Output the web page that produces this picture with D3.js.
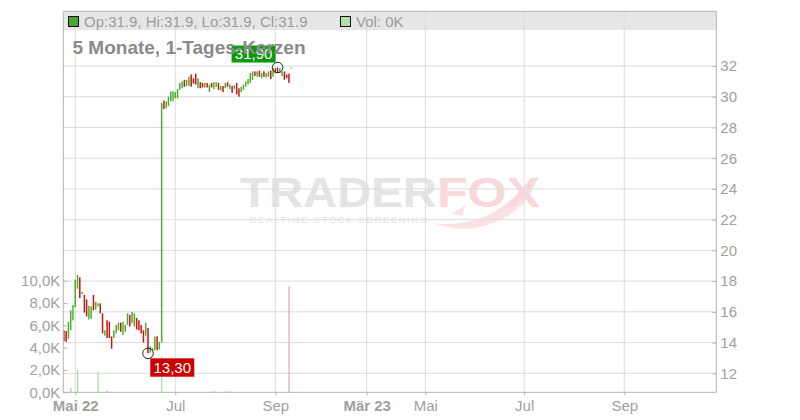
<!DOCTYPE html>
<html><head><meta charset="utf-8">
<script src="https://cdn.jsdelivr.net/npm/d3@7"></script>
<style>
body{margin:0;background:#fff}
svg{display:block}
text{font-family:"Liberation Sans",Arial,Helvetica,sans-serif}
</style>
</head><body>
<svg id="chart" width="800" height="420"></svg>
<script>
// ---------- DATA ----------
const dates = [
"2022-04-25","2022-04-26","2022-04-27","2022-04-28","2022-04-29",
"2022-05-02","2022-05-03","2022-05-04","2022-05-05","2022-05-06",
"2022-05-09","2022-05-10","2022-05-11","2022-05-12","2022-05-13",
"2022-05-16","2022-05-17","2022-05-18","2022-05-19","2022-05-20",
"2022-05-23","2022-05-24","2022-05-25","2022-05-26","2022-05-27",
"2022-05-30","2022-05-31","2022-06-01","2022-06-02","2022-06-03",
"2022-06-06","2022-06-07","2022-06-08","2022-06-09","2022-06-10",
"2022-06-13","2022-06-14","2022-06-15","2022-06-16","2022-06-17",
"2022-06-20","2022-06-21","2022-06-22","2022-06-23","2022-06-24",
"2022-06-27","2022-06-28","2022-06-29","2022-06-30","2022-07-01",
"2022-07-04","2022-07-05","2022-07-06","2022-07-07","2022-07-08",
"2022-07-11","2022-07-12","2022-07-13","2022-07-14","2022-07-15",
"2022-07-18","2022-07-19","2022-07-20","2022-07-21","2022-07-22",
"2022-07-25","2022-07-26","2022-07-27","2022-07-28","2022-07-29",
"2022-08-01","2022-08-02","2022-08-03","2022-08-04","2022-08-05",
"2022-08-08","2022-08-09","2022-08-10","2022-08-11","2022-08-12",
"2022-08-15","2022-08-16","2022-08-17","2022-08-18","2022-08-19",
"2022-08-22","2022-08-23","2022-08-24","2022-08-25","2022-08-26",
"2022-08-29","2022-08-30","2022-08-31","2022-09-01","2022-09-02",
"2022-09-05","2022-09-06","2022-09-07","2022-09-08","2022-09-09",
"2022-09-12"];

const opens = [
14.80,14.75,14.25,14.80,15.45, 16.30,17.50,18.25,17.15,17.10,
16.80,15.50,15.55,17.10,16.15, 16.35,16.55,15.90,14.45,15.45,
15.35,14.40,14.30,14.60,14.80, 15.30,14.50,14.70,15.15,15.80,
15.25,15.05,15.60,15.45,15.15, 14.80,14.45,14.95,13.35,13.45,
13.50,14.40,13.55,14.00,29.75, 29.25,29.40,29.70,29.70,29.90,
29.90,30.45,30.55,31.10,30.70, 30.70,31.45,31.20,31.50,30.55,
30.95,30.90,30.60,30.90,30.30, 30.90,30.50,30.65,30.90,30.40,
30.70,30.55,30.95,30.50,30.70, 30.50,30.90,30.55,30.30,30.45,
30.65,30.80,30.90,31.10,31.65, 31.30,31.70,31.20,31.65,31.25,
31.30,31.70,31.30,31.85,31.90, 31.55,31.35,31.65,31.45,31.50,
31.90];

const closes = [
14.10,14.05,15.35,16.10,16.45, 18.10,18.40,16.90,17.30,15.95,
15.70,16.40,16.35,16.10,16.65, 16.55,15.90,14.60,14.80,14.30,
14.30,13.60,14.80,15.15,15.30, 14.70,15.35,15.15,15.90,15.05,
16.00,15.90,14.85,14.80,14.60, 14.00,15.30,13.30,13.75,13.65,
14.40,13.50,14.05,29.60,29.20, 29.70,30.00,30.35,30.35,30.30,
30.50,30.90,31.00,30.65,31.10, 31.30,30.65,30.85,30.80,31.20,
30.55,30.60,30.90,30.60,30.80, 30.60,30.95,30.95,30.45,30.70,
30.30,30.90,30.65,30.80,30.25, 30.75,30.15,30.00,30.65,30.80,
31.00,31.15,31.55,31.65,31.35, 31.65,31.30,31.55,31.30,31.55,
31.65,31.15,31.85,31.55,31.55, 31.85,31.65,31.10,31.20,30.90,
31.90];

// volume in thousands
const volumes = [
0,0,0,0.4,0, 0,2.0,0,0,0,
0,0,0,0,0, 1.9,0,0,0,0.15,
0,0,0,0,0, 0,0,0,0,0,
0,0,0,0,0, 0,0,0,0,0,
0,0,0,3.2,0, 0,0,0,0,0,
0,0,0,0,0, 0,0,0,0,0,
0,0,0,0,0, 0,0.1,0,0,0,
0,0.1,0,0.1,0, 0,0,0,0,0,
0,0,0,0,0, 0,0,0,0,0,
0,0,0,0,0, 0,0,0,0,9.5,
0];

const priceTicks = [12,14,16,18,20,22,24,26,28,30,32];
const volTicks = [0,2,4,6,8,10];
const xTickLabels = ["Mai 22","Jul","Sep","Mär 23","Mai","Jul","Sep"];
const xTickSlots  = [5,49,93,133.2,159,202.5,246.5];
const xTickBold   = [true,false,false,true,false,false,false];
const titleText = "5 Monate, 1-Tages-Kerzen";

// ---------- LAYOUT ----------
const L = 63.3, R = 716.3, T = 11.3, HB = 30, B = 392.3;
const svg = d3.select("#chart");
const de = d3.formatLocale({decimal:",", thousands:".", grouping:[3], currency:["","€"]});
const f1 = de.format(".1f"), f2 = de.format(".2f");

const x = d3.scaleLinear().domain([-0.26, 287]).range([L, R]);
const yP = d3.scaleLinear().domain([12, 32]).range([373.3, 66]);
const yV = d3.scaleLinear().domain([0, 10]).range([B, 280.7]);

const data = dates.map((d, i) => ({i, d, o: opens[i], c: closes[i], v: volumes[i]}));

// header bar
svg.append("rect").attr("x", L).attr("y", T).attr("width", R - L).attr("height", HB - T).attr("fill", "#e6e6e6");

// watermark
const wm = svg.append("g");
wm.append("text").attr("x", 240).attr("y", 207).attr("font-size", 42).attr("font-weight", "bold")
  .attr("fill", "#e4e4e4").attr("textLength", 197).attr("lengthAdjust", "spacingAndGlyphs").text("TRADER");
wm.append("path").attr("fill", "#fbe1e4")
  .attr("d", "M433,223 C455,226 480,222 500,208 C515,197 528,186 537,176 C534,195 520,210 500,220 C478,231 455,231 433,223 Z M452,214 L466,204 L462,216 Z");
wm.append("text").attr("x", 437).attr("y", 207).attr("font-size", 42).attr("font-weight", "bold")
  .attr("fill", "#fad7db").attr("textLength", 103).attr("lengthAdjust", "spacingAndGlyphs").text("FOX");
wm.append("text").attr("x", 250).attr("y", 223).attr("font-size", 9)
  .attr("fill", "#e4e4e4").attr("textLength", 177).attr("lengthAdjust", "spacing").text("REALTIME STOCK SCREENING");

// grid
const grid = svg.append("g").attr("stroke", "#dcdcdc").attr("stroke-width", 1);
grid.selectAll("line.h").data(priceTicks).join("line")
  .attr("x1", L).attr("x2", R).attr("y1", d => yP(d)).attr("y2", d => yP(d));
grid.selectAll("line.v").data(xTickSlots).join("line")
  .attr("y1", T).attr("y2", B).attr("x1", d => x(d)).attr("x2", d => x(d));

// volume bars
svg.append("g").selectAll("rect").data(data.filter(d => d.v > 0)).join("rect")
  .attr("x", d => x(d.i) - 0.5).attr("width", 1.2)
  .attr("y", d => yV(d.v)).attr("height", d => B - yV(d.v))
  .attr("fill", d => d.c >= d.o ? "#a3dc9c" : "#e9a2ac");

// candles
svg.append("g").selectAll("rect").data(data).join("rect")
  .attr("x", d => x(d.i) - 0.75).attr("width", 1.5)
  .attr("y", d => yP(Math.max(d.o, d.c)))
  .attr("height", d => Math.max(1, Math.abs(yP(d.o) - yP(d.c))))
  .attr("fill", d => d.c >= d.o ? "#4caf2c" : "#c81414");

// frame lines
const frame = svg.append("g").attr("stroke", "#b4b4b4").attr("stroke-width", 1).attr("fill", "none");
frame.append("line").attr("x1", L).attr("x2", R).attr("y1", T).attr("y2", T);
frame.append("line").attr("x1", L).attr("x2", L).attr("y1", T).attr("y2", B);
frame.append("line").attr("x1", R).attr("x2", R).attr("y1", T).attr("y2", B);
frame.append("line").attr("x1", L).attr("x2", R).attr("y1", B).attr("y2", B);

// axes
function styleAxis(g) {
  g.select(".domain").remove();
  g.selectAll(".tick line").attr("stroke", "#b4b4b4");
  g.selectAll(".tick text").attr("fill", "#a0a0a0").attr("font-size", 15)
    .attr("font-family", "'Liberation Sans',Arial,sans-serif");
}
svg.append("g").attr("transform", `translate(${R},0)`)
  .call(d3.axisRight(yP).tickValues(priceTicks).tickSizeInner(-4).tickSizeOuter(0).tickPadding(4).tickFormat(d3.format("d")))
  .call(styleAxis);
svg.append("g").attr("transform", `translate(${L},0)`)
  .call(d3.axisLeft(yV).tickValues(volTicks).tickSizeInner(-4).tickSizeOuter(0).tickPadding(3).tickFormat(d => f1(d) + "K"))
  .call(styleAxis);
const xa = svg.append("g").attr("transform", `translate(0,${B})`)
  .call(d3.axisBottom(x).tickValues(xTickSlots).tickSizeInner(3).tickSizeOuter(0).tickPadding(5.5)
    .tickFormat((d, k) => xTickLabels[k]))
  .call(styleAxis);
xa.selectAll(".tick text").attr("font-weight", (d, k) => xTickBold[k] ? "bold" : "normal");

// header legend
const last = data[data.length - 1];
svg.append("rect").attr("x", 68.5).attr("y", 16.5).attr("width", 10).attr("height", 10)
  .attr("fill", "#4aa832").attr("stroke", "#111");
svg.append("text").attr("x", 84).attr("y", 26.5).attr("font-size", 15).attr("fill", "#9c9c9c")
  .text(`Op:${last.o.toFixed(1)}, Hi:${Math.max(last.o,last.c).toFixed(1)}, Lo:${Math.min(last.o,last.c).toFixed(1)}, Cl:${last.c.toFixed(1)}`);
svg.append("rect").attr("x", 340.5).attr("y", 16.5).attr("width", 10).attr("height", 10)
  .attr("fill", "#b3e1ad").attr("stroke", "#111");
svg.append("text").attr("x", 356).attr("y", 26.5).attr("font-size", 15).attr("fill", "#9c9c9c")
  .text(`Vol: ${d3.format("d")(last.v)}K`);

// annotations: highest & lowest value
const hiIdx = d3.maxIndex(data, d => Math.max(d.o, d.c));
const loIdx = d3.minIndex(data, d => Math.min(d.o, d.c));
const hi = data[hiIdx], lo = data[loIdx];
const hiV = Math.max(hi.o, hi.c), loV = Math.min(lo.o, lo.c);
const ann = svg.append("g");
const hx = x(hi.i), hy = yP(hiV);
ann.append("rect").attr("x", hx - 46).attr("y", hy - 22).attr("width", 44).attr("height", 17).attr("fill", "#0a9a0a");
ann.append("text").attr("x", hx - 24).attr("y", hy - 8.5).attr("text-anchor", "middle").attr("font-size", 15)
  .attr("fill", "#fff").text(f2(hiV));
ann.append("circle").attr("cx", hx).attr("cy", hy).attr("r", 5.3).attr("fill", "none").attr("stroke", "#222");
const lx = x(lo.i), ly = yP(loV);
ann.append("rect").attr("x", lx + 2.3).attr("y", ly + 5).attr("width", 44).attr("height", 18.4).attr("fill", "#cc0000");
ann.append("text").attr("x", lx + 24.3).attr("y", ly + 19.3).attr("text-anchor", "middle").attr("font-size", 15)
  .attr("fill", "#fff").text(f2(loV));
ann.append("circle").attr("cx", lx).attr("cy", ly).attr("r", 5.3).attr("fill", "none").attr("stroke", "#222");

// title (drawn on top, as in the reference)
svg.append("text").attr("x", 72.5).attr("y", 54).attr("font-size", 19).attr("font-weight", "bold")
  .attr("fill", "#8a8a8a").text(titleText);
</script>
</body></html>
